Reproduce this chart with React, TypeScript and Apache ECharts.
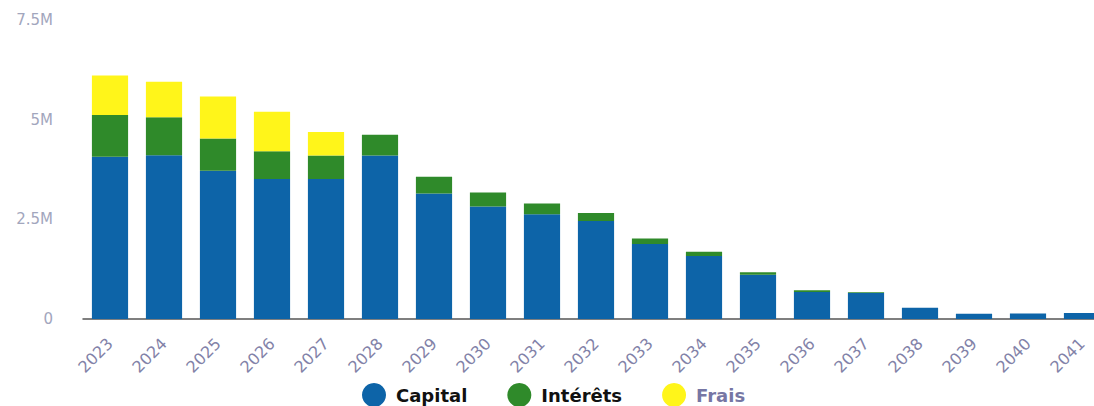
import React, { useEffect, useRef } from "react";
import * as echarts from "echarts";

const years = ["2023","2024","2025","2026","2027","2028","2029","2030","2031","2032","2033","2034","2035","2036","2037","2038","2039","2040","2041"];
const capital = [4.07,4.11,3.72,3.51,3.51,4.10,3.15,2.82,2.63,2.46,1.88,1.58,1.11,0.68,0.65,0.28,0.13,0.14,0.15];
const interets = [1.05,0.95,0.81,0.70,0.59,0.52,0.42,0.35,0.27,0.20,0.14,0.11,0.06,0.04,0.02,0,0,0,0];
const frais = [0.99,0.89,1.05,0.99,0.59,0,0,0,0,0,0,0,0,0,0,0,0,0,0];
const yTicks = [0, 2.5, 5, 7.5];
const yTickLabels = ["0", "2.5M", "5M", "7.5M"];
const seriesNames = ["Capital", "Intérêts", "Frais"];
const colors = ["#0d64a8", "#2f8a2a", "#fff51a"];

export default function App() {
  const ref = useRef<HTMLDivElement>(null);
  useEffect(() => {
    if (!ref.current) return;
    const chart = echarts.init(ref.current, null, { renderer: "svg" });
    const M = 1e6;
    const toM = (a: number[]) => a.map((v) => v * M);
    chart.setOption({
      animation: false,
      color: colors,
      grid: { left: 83, width: 1026, top: 20, height: 299, containLabel: false, outerBoundsMode: "none" },
      legend: {
        left: 357,
        top: 378,
        itemWidth: 34,
        itemHeight: 24,
        itemGap: 40,
        icon: "circle",
        textStyle: { fontFamily: "DejaVu Sans", fontWeight: "bold", fontSize: 18, lineHeight: 20, color: "#111" },
        data: [
          { name: seriesNames[0] },
          { name: seriesNames[1] },
          { name: seriesNames[2], textStyle: { color: "#7676a4" } },
        ],
      },
      xAxis: {
        type: "category",
        data: years,
        axisLine: { lineStyle: { color: "#555", width: 1.5 } },
        axisTick: { show: false },
        axisLabel: {
          rotate: 45,
          margin: 22,
          color: "#8282a8",
          fontFamily: "DejaVu Sans",
          fontSize: 16,
        },
      },
      yAxis: {
        type: "value",
        min: 0,
        max: yTicks[yTicks.length - 1] * M,
        interval: 2.5 * M,
        splitLine: { show: false },
        axisLine: { show: false },
        axisTick: { show: false },
        axisLabel: {
          margin: 30,
          padding: [6, 0, 0, 0],
          color: "#a2a6bd",
          fontFamily: "DejaVu Sans",
          fontSize: 15,
          formatter: (v: number) => {
            const i = yTicks.findIndex((t) => Math.abs(t * M - v) < 1);
            return i >= 0 ? yTickLabels[i] : "";
          },
        },
      },
      series: [
        { name: seriesNames[0], type: "bar", stack: "t", data: toM(capital), barCategoryGap: "33%" },
        { name: seriesNames[1], type: "bar", stack: "t", data: toM(interets) },
        { name: seriesNames[2], type: "bar", stack: "t", data: toM(frais) },
      ],
    });
    return () => chart.dispose();
  }, []);
  return (
    <div
      ref={ref}
      style={{ position: "absolute", left: 0, top: 0, width: 1094, height: 406, background: "#fff" }}
    />
  );
}
